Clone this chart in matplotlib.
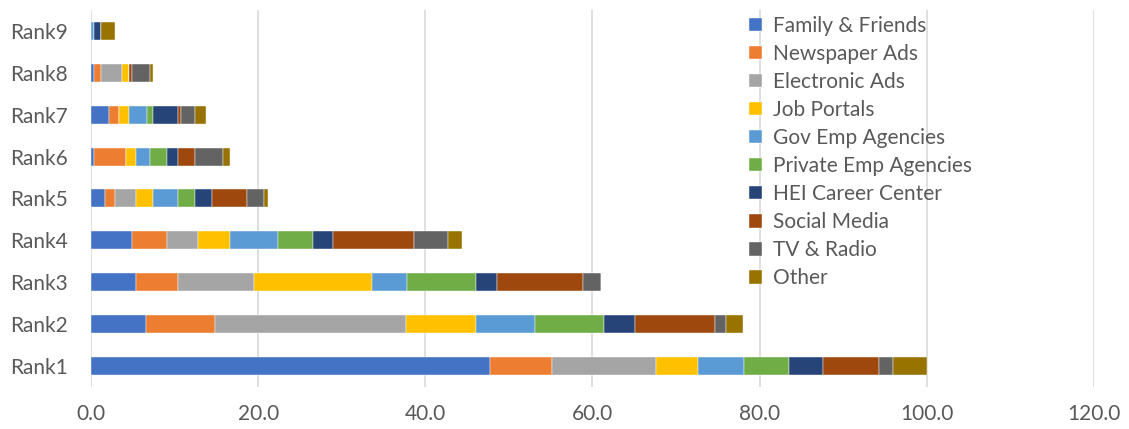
import matplotlib
matplotlib.use("Agg")
import matplotlib.pyplot as plt
import numpy as np

plt.rcParams['font.family'] = ['Lato', 'DejaVu Sans']

ranks = ["Rank1", "Rank2", "Rank3", "Rank4", "Rank5", "Rank6", "Rank7", "Rank8", "Rank9"]
sources = ["Family & Friends", "Newspaper Ads", "Electronic Ads", "Job Portals",
           "Gov Emp Agencies", "Private Emp Agencies", "HEI Career Center",
           "Social Media", "TV & Radio", "Other"]

# share per source, listed Rank1..Rank9
family_friends = [47.75, 6.55, 5.35, 4.95, 1.65, 0.40, 2.10, 0.40, 0.00]
newspaper_ads  = [7.45, 8.30, 5.05, 4.15, 1.20, 3.75, 1.20, 0.85, 0.00]
electronic_ads = [12.40, 22.85, 9.10, 3.70, 2.50, 0.00, 0.00, 2.45, 0.00]
job_portals    = [5.05, 8.40, 14.15, 3.80, 2.10, 1.25, 1.30, 0.85, 0.00]
gov_emp        = [5.45, 7.00, 4.15, 5.80, 2.95, 1.65, 2.05, 0.00, 0.40]
private_emp    = [5.40, 8.30, 8.30, 4.15, 2.05, 2.10, 0.80, 0.00, 0.00]
hei_career     = [4.10, 3.70, 2.50, 2.45, 2.05, 1.25, 2.95, 0.00, 0.85]
social_media   = [6.65, 9.60, 10.30, 9.60, 4.20, 2.05, 0.35, 0.40, 0.00]
tv_radio       = [1.65, 1.25, 2.10, 4.15, 2.00, 3.35, 1.70, 2.10, 0.00]
other          = [4.10, 2.05, 0.00, 1.65, 0.50, 0.85, 1.25, 0.35, 1.65]

series = [family_friends, newspaper_ads, electronic_ads, job_portals, gov_emp,
          private_emp, hei_career, social_media, tv_radio, other]
colors = ["#4472C4", "#ED7D31", "#A5A5A5", "#FFC000", "#5B9BD5",
          "#70AD47", "#264478", "#9E480E", "#636363", "#997300"]

fig = plt.figure(figsize=(11.29, 4.29), dpi=100)
ax = fig.add_axes([0.0806, 0.098, 0.8884, 0.879])

y = np.arange(len(ranks))
left = np.zeros(len(ranks))
for name, vals, c in zip(sources, series, colors):
    vals = np.array(vals)
    ax.barh(y, vals, left=left, height=0.43, color=c, label=name,
            edgecolor="white", linewidth=0.3, zorder=3)
    left += vals

ax.set_xlim(0, 120)
ax.set_ylim(-0.5, len(ranks) - 0.5)
ax.set_yticks(y)
ax.set_yticklabels(ranks)
ax.set_xticks(np.arange(0, 121, 20))
ax.set_xticklabels([f"{v:.1f}" for v in np.arange(0, 121, 20)])

ax.grid(axis="x", color="#D9D9D9", linewidth=1.2, zorder=0)
for s in ax.spines.values():
    s.set_visible(False)
ax.tick_params(axis="both", length=0, labelsize=15, colors="#595959")
ax.tick_params(axis="x", pad=12)
ax.tick_params(axis="y", pad=17)

ax.legend(loc="upper left", bbox_to_anchor=(0.648, 1.006), frameon=False,
          fontsize=15, labelcolor="#595959", handlelength=0.62,
          handleheight=0.62, handletextpad=0.5, labelspacing=0.385,
          borderaxespad=0)

fig.savefig("out.png", dpi=100)
